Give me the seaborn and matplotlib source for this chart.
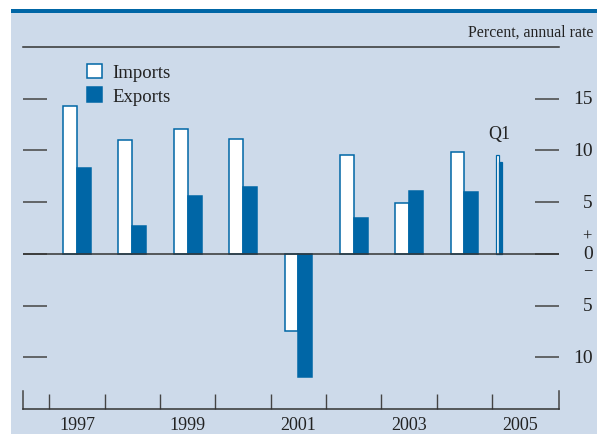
import numpy as np
import pandas as pd
import matplotlib
matplotlib.use("Agg")
import matplotlib.pyplot as plt
import matplotlib.transforms as mtransforms
from matplotlib.patches import Rectangle, Patch
import seaborn as sns

# ---- data ----
years = [1997, 1998, 1999, 2000, 2001, 2002, 2003, 2004]
imports = [14.3, 11.0, 12.1, 11.1, -7.5, 9.6, 4.9, 9.8]
exports = [8.3, 2.7, 5.6, 6.5, -11.9, 3.5, 6.1, 6.0]
q1_year = 2005
q1_imports = [9.6]
q1_exports = [8.9]
series = ["Imports", "Exports"]
year_labels = ["1997", "1999", "2001", "2003", "2005"]
ytick_values = [15, 10, 5, 0, -5, -10]
ytick_labels = ["15", "10", "5", "0", "5", "10"]

BLUE = "#0066a6"
BG = "#cddaea"

plt.rcParams['font.family'] = ['Liberation Serif', 'DejaVu Serif']

W, H = 597, 435
fig = plt.figure(figsize=(W / 100, H / 100), dpi=100, facecolor=BG)

def fx(px):
    return px / W

def fy(py):
    return 1 - py / H

# white margins and blue top rule
fig.add_artist(Rectangle((0, 0), fx(11), 1, transform=fig.transFigure,
                         facecolor="white", edgecolor="none", zorder=0))
fig.add_artist(Rectangle((0, fy(10)), 1, 10 / H, transform=fig.transFigure,
                         facecolor="white", edgecolor="none", zorder=0))
fig.add_artist(Rectangle((fx(11), fy(13.5)), 1, 3.5 / H, transform=fig.transFigure,
                         facecolor=BLUE, edgecolor="none", zorder=1))

ax_left, ax_right = 23, 558.7
ax_top, ax_bot = 48, 410
ax = fig.add_axes([fx(ax_left), fy(ax_bot), (ax_right - ax_left) / W, (ax_bot - ax_top) / H])
ax.set_facecolor("none")

annual = pd.DataFrame({
    "x": [y + 0.5 for y in years] * 2,
    "series": [series[0]] * len(years) + [series[1]] * len(years),
    "value": imports + exports,
})
q1 = pd.DataFrame({
    "x": [q1_year + 0.125] * 2,
    "series": series,
    "value": q1_imports + q1_exports,
})
pal = {"Imports": "white", "Exports": BLUE}

sns.barplot(data=annual, x="x", y="value", hue="series", hue_order=series,
            palette=pal, native_scale=True, width=0.5, dodge=True,
            edgecolor=BLUE, linewidth=1.1, legend=False, ax=ax, errorbar=None,
            saturation=1)
sns.barplot(data=q1, x="x", y="value", hue="series", hue_order=series,
            palette=pal, native_scale=True, width=0.125, dodge=True,
            edgecolor=BLUE, linewidth=0.9, legend=False, ax=ax, errorbar=None,
            saturation=1)

ax.set_xlim(1996.525, 2006.203)
ax.set_ylim(-15, 20)
ax.set_xlabel("")
ax.set_ylabel("")

# zero line
ax.axhline(0, color="#333333", lw=1.1, zorder=3)

# spines
for s in ["top", "bottom"]:
    ax.spines[s].set_color("#333333")
    ax.spines[s].set_linewidth(1.1)
for s in ["left", "right"]:
    ax.spines[s].set_color("#444444")
    ax.spines[s].set_linewidth(1.1)
    ax.spines[s].set_bounds(-15, -15 + 18 / 10.34)

# x ticks at year boundaries, labels at year centers
ax.set_xticks(list(range(1997, 2006)))
ax.set_xticklabels([])
ax.tick_params(axis="x", which="major", direction="in", length=10.8, width=1.0,
               color="#444444", top=False)
ax.set_xticks([int(l) + 0.5 for l in year_labels], minor=True)
ax.set_xticklabels(year_labels, minor=True)
ax.tick_params(axis="x", which="minor", length=0, pad=5, labelsize=13,
               labelcolor="#222222")

# y ticks both sides, labels drawn on the right
ax.set_yticks(ytick_values)
ax.set_yticklabels([])
ax.tick_params(axis="y", direction="in", length=17.3, width=1.1, color="#444444",
               left=True, right=True, labelleft=False, labelright=False)
trans = mtransforms.blended_transform_factory(fig.transFigure, ax.transData)
for v, lab in zip(ytick_values, ytick_labels):
    ax.text(fx(593), v, lab, transform=trans, ha="right", va="center",
            fontsize=14, color="#222222")
ax.text(fx(592), 18.5 / 10.34, "+", transform=trans, ha="right", va="center",
        fontsize=12, color="#222222")
ax.text(fx(592), -16.5 / 10.34, "\u2212", transform=trans, ha="right", va="center",
        fontsize=12, color="#222222")

# Q1 label
ax.annotate("Q1", xy=(q1_year + 0.125, q1_imports[0]), xytext=(0, 9),
            textcoords="offset points", ha="center", va="bottom",
            fontsize=13, color="#222222")

# header text
fig.text(fx(593), fy(33), "Percent, annual rate", ha="right", va="center",
         fontsize=11.4, color="#222222")

# legend
handles = [Patch(facecolor=pal[s], edgecolor=BLUE, linewidth=1.1, label=s) for s in series]
leg = ax.legend(handles=handles, loc="upper left", bbox_to_anchor=(fx(86.5), fy(64.5)),
                bbox_transform=fig.transFigure, frameon=False, fontsize=13.5,
                handlelength=0.85, handleheight=0.85, handletextpad=0.55,
                labelspacing=0.32, borderpad=0, borderaxespad=0)
for t in leg.get_texts():
    t.set_color("#222222")

fig.savefig("out.png", dpi=100, facecolor=BG)
